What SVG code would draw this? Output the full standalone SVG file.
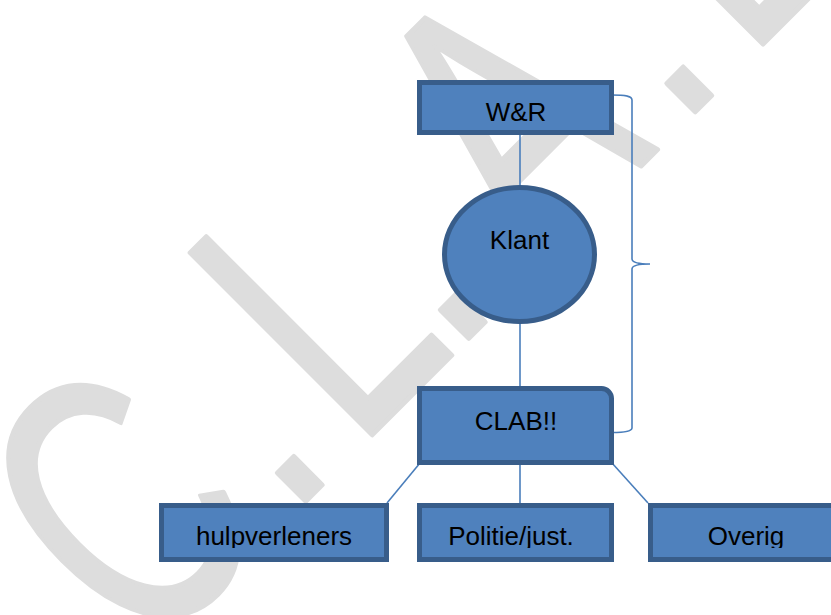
<svg xmlns="http://www.w3.org/2000/svg" width="831" height="615" viewBox="0 0 831 615">
  <defs>
    <style>
      .box { fill: #4f81bd; stroke: #385d8a; stroke-width: 5; }
      .lbl { font-family: "Liberation Sans", Arial, sans-serif; font-size: 26px; fill: #000000; text-anchor: middle; }
      .conn { fill: none; stroke: #4a7ebb; stroke-width: 1.6; }
      .wm { font-family: "Liberation Sans", Arial, sans-serif; font-size: 374px; fill: #dddddd; stroke: #dddddd; stroke-width: 5; stroke-linejoin: round; }
    </style>
    <clipPath id="clipBottom">
      <rect x="0" y="0" width="831" height="548"/>
    </clipPath>
  </defs>
  <rect x="0" y="0" width="831" height="615" fill="#ffffff"/>

  <g id="watermark">
    <text class="wm" transform="translate(370,437) rotate(-45) scale(0.69,1)" x="-461.7 -166.8 -27.2 167.2 341.6 631.4 773.8 1023" y="0">C.L.A.B.</text>
  </g>

  <g id="connectors">
    <line class="conn" x1="520" y1="135" x2="520" y2="185"/>
    <line class="conn" x1="520" y1="324" x2="520" y2="386"/>
    <line class="conn" x1="420" y1="463" x2="387" y2="503"/>
    <line class="conn" x1="520" y1="465" x2="520" y2="503"/>
    <line class="conn" x1="612" y1="463" x2="648" y2="503"/>
    <path class="conn" d="M612,95 C626,95 632,96 632,100 L632,259 C632,262 638,264 650,264 C638,264 632,266 632,269 L632,428 C632,431 626,432.5 612,432.5"/>
  </g>

  <g id="node-wr">
    <rect class="box" x="419.5" y="82.5" width="192" height="50"/>
    <text class="lbl" x="516" y="121">W&amp;R</text>
  </g>

  <g id="node-klant">
    <ellipse class="box" cx="519.5" cy="254.5" rx="75" ry="67"/>
    <text class="lbl" x="519.5" y="249">Klant</text>
  </g>

  <g id="node-clab">
    <path class="box" d="M419.5,388.5 H601.5 A10,10 0 0 1 611.5,398.5 V462.5 H419.5 Z"/>
    <text class="lbl" x="516" y="430">CLAB!!</text>
  </g>

  <g id="node-hulpverleners">
    <rect class="box" x="161.5" y="505.5" width="225" height="54"/>
    <text class="lbl" x="274" y="545" clip-path="url(#clipBottom)">hulpverleners</text>
  </g>

  <g id="node-politie">
    <rect class="box" x="419.5" y="505.5" width="192" height="54"/>
    <text class="lbl" x="511" y="545" clip-path="url(#clipBottom)">Politie/just.</text>
  </g>

  <g id="node-overig">
    <rect class="box" x="650.5" y="505.5" width="200" height="54"/>
    <text class="lbl" x="746" y="545" clip-path="url(#clipBottom)">Overig</text>
  </g>
</svg>
